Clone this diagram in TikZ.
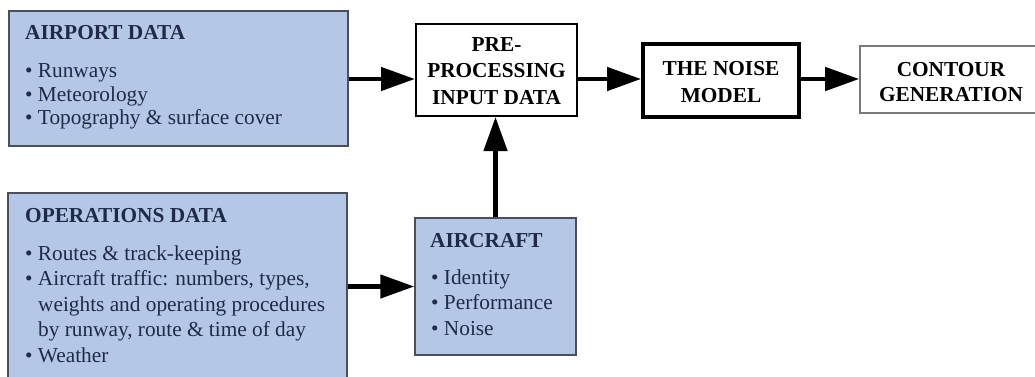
\documentclass[tikz,border=0pt]{standalone}
\usepackage{fontspec}
\setmainfont{Liberation Serif}
\newfontfamily\timesfont{Liberation Serif}
\usetikzlibrary{arrows.meta}
\definecolor{boxblue}{HTML}{B4C7E7}
\definecolor{boxedge}{HTML}{4A4F5A}
\definecolor{inktext}{HTML}{1E2A48}
\definecolor{contouredge}{HTML}{7A7A7A}
\tikzset{
  bluebox/.style={draw=boxedge, fill=boxblue, line width=1.5pt, rectangle, inner sep=0pt},
  prebox/.style={draw=black, fill=white, line width=2pt, rectangle, inner sep=0pt},
  noisebox/.style={draw=black, fill=white, line width=3.8pt, rectangle, inner sep=0pt},
  contourbox/.style={draw=contouredge, fill=white, line width=1.6pt, rectangle, inner sep=0pt},
  txt/.style={anchor=base west, inner sep=0pt, text=inktext, font=\timesfont\fontsize{21.3}{24}\selectfont},
  hdr/.style={txt, font=\timesfont\fontsize{21.3}{24}\selectfont\bfseries},
  ctr/.style={anchor=base, inner sep=0pt, text=black, font=\timesfont\fontsize{21.3}{24}\selectfont\bfseries},
  flow/.style={line width=4.6pt, -{Triangle[length=34pt,width=23pt]}, shorten >=0pt},
}
\begin{document}
\begin{tikzpicture}[x=1pt,y=-1pt]
\useasboundingbox (0,0) rectangle (1035,376);
% boxes
\node[bluebox, minimum width=339pt, minimum height=135pt] (airport) at (178.5,78.5) {};
\node[bluebox, minimum width=339pt, minimum height=200pt] (ops) at (177.5,293) {};
\node[prebox, minimum width=161pt, minimum height=92pt] (pre) at (496.5,70) {};
\node[noisebox, minimum width=156pt, minimum height=73pt] (noise) at (721,80.5) {};
\node[contourbox, minimum width=186pt, minimum height=67pt] (contour) at (953,79.5) {};
\node[bluebox, minimum width=161pt, minimum height=137pt] (aircraft) at (495.5,286.5) {};
% airport text
\node[hdr] (airporthead) at (25,39) {AIRPORT DATA};
\node[txt] (ap1) at (25,77) {\textbullet\ Runways};
\node[txt] (ap2) at (25,101) {\textbullet\ Meteorology};
\node[txt] (ap3) at (25,124.5) {\textbullet\ Topography \& surface cover};
% operations text
\node[hdr] (opshead) at (25,222) {OPERATIONS DATA};
\node[txt] (op1) at (25,260) {\textbullet\ Routes \& track-keeping};
\node[txt] (op2) at (25,285.5) {\textbullet\ Aircraft traffic: numbers, types,};
\node[txt] (op3) at (38,311) {weights and operating procedures};
\node[txt] (op4) at (38,336.5) {by runway, route \& time of day};
\node[txt] (op5) at (25,362) {\textbullet\ Weather};
% aircraft text
\node[hdr] (achead) at (430,247) {AIRCRAFT};
\node[txt] (ac1) at (431,284) {\textbullet\ Identity};
\node[txt] (ac2) at (431,309.5) {\textbullet\ Performance};
\node[txt] (ac3) at (431,335) {\textbullet\ Noise};
% centred texts
\node[ctr] (pre1) at (496.5,51) {PRE-};
\node[ctr] (pre2) at (496.5,77.5) {PROCESSING};
\node[ctr] (pre3) at (496.5,104) {INPUT DATA};
\node[ctr] (noise1) at (721,75) {THE NOISE};
\node[ctr] (noise2) at (721,102) {MODEL};
\node[ctr] (cont1) at (951,76) {CONTOUR};
\node[ctr] (cont2) at (951,101) {GENERATION};
% connectors
\coordinate (y79) at (0,79);
\draw[flow] (airport.east |- y79) -- (pre.west |- y79);
\draw[flow] (pre.east |- y79) -- (noise.west |- y79);
\draw[flow] (noise.east |- y79) -- (contour.west |- y79);
\draw[flow] (ops.east |- aircraft.west) -- (aircraft.west);
\draw[flow] (aircraft.north) -- (pre.south -| aircraft.north);
\end{tikzpicture}
\end{document}
